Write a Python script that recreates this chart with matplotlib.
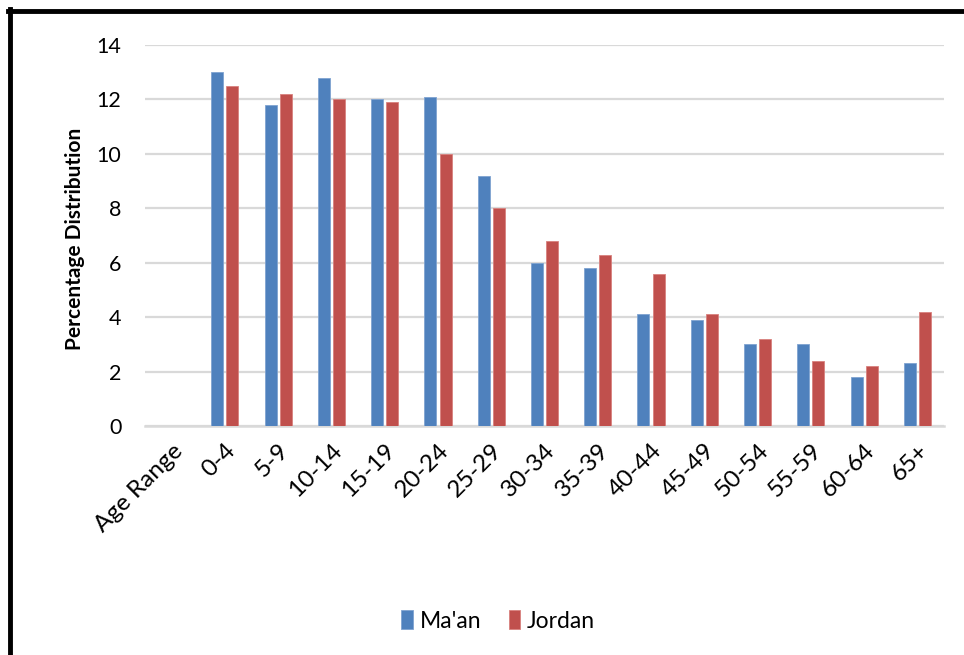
import matplotlib
matplotlib.use("Agg")
import matplotlib.pyplot as plt
from matplotlib.lines import Line2D
import numpy as np

plt.rcParams['font.family'] = ['Lato', 'DejaVu Sans']

categories = ["Age Range", "0-4", "5-9", "10-14", "15-19", "20-24", "25-29", "30-34",
              "35-39", "40-44", "45-49", "50-54", "55-59", "60-64", "65+"]
maan = [np.nan, 13.0, 11.8, 12.8, 12.0, 12.1, 9.2, 6.0, 5.8, 4.1, 3.9, 3.0, 3.0, 1.8, 2.3]
jordan = [np.nan, 12.5, 12.2, 12.0, 11.9, 10.0, 8.0, 6.8, 6.3, 5.6, 4.1, 3.2, 2.4, 2.2, 4.2]
yticks = [0, 2, 4, 6, 8, 10, 12, 14]

blue = "#4F81BD"
red = "#C0504D"
grid = "#D9D9D9"

fig = plt.figure(figsize=(9.64, 6.55), dpi=100)
ax = fig.add_axes([145/964, 1-426/655, (944-145)/964, (426-45)/655])

x = np.arange(len(categories))
w = 0.225
off = 0.142
ax.bar(x - off, maan, width=w, color=blue, edgecolor="#7FA3D1", linewidth=0.6, label="Ma'an", zorder=3)
ax.bar(x + off, jordan, width=w, color=red, edgecolor="#D9817E", linewidth=0.6, label="Jordan", zorder=3)

ax.set_xlim(-0.5, len(categories) - 0.5)
ax.set_ylim(0, 14)
ax.set_yticks(yticks)
ax.set_yticklabels([str(t) for t in yticks], fontsize=15.5)
ax.yaxis.grid(True, color=grid, linewidth=1.6, zorder=0)
ax.set_axisbelow(True)
for s in ["top", "right", "left"]:
    ax.spines[s].set_visible(False)
ax.spines["bottom"].set_color(grid)
ax.spines["bottom"].set_linewidth(1.8)
ax.tick_params(axis="y", length=0, pad=17)
ax.tick_params(axis="x", length=0, pad=10)
ax.set_xticks(x)
ax.set_xticklabels(categories, fontsize=17.5, rotation=45, ha="right", va="top", rotation_mode="anchor")
for lbl in ax.get_xticklabels():
    lbl.set_x(lbl.get_position()[0])
ax.set_ylabel("Percentage Distribution", fontsize=15, fontweight="bold")
ax.yaxis.set_label_coords(-0.075, 0.49)

fig.legend(loc="center", bbox_to_anchor=(498/964, 1-621/655), ncol=2, frameon=False,
           fontsize=16.5, handlelength=0.5, handleheight=0.9, handletextpad=0.3, columnspacing=1.2)

# outer frame (left and top)
fig.add_artist(Line2D([9.5/964, 9.5/964], [0, 1-9/655], transform=fig.transFigure, color="black", linewidth=3.5))
fig.add_artist(Line2D([7.5/964, 1], [1-11/655, 1-11/655], transform=fig.transFigure, color="black", linewidth=3.5))

fig.savefig("out.png", dpi=100, facecolor="white")
